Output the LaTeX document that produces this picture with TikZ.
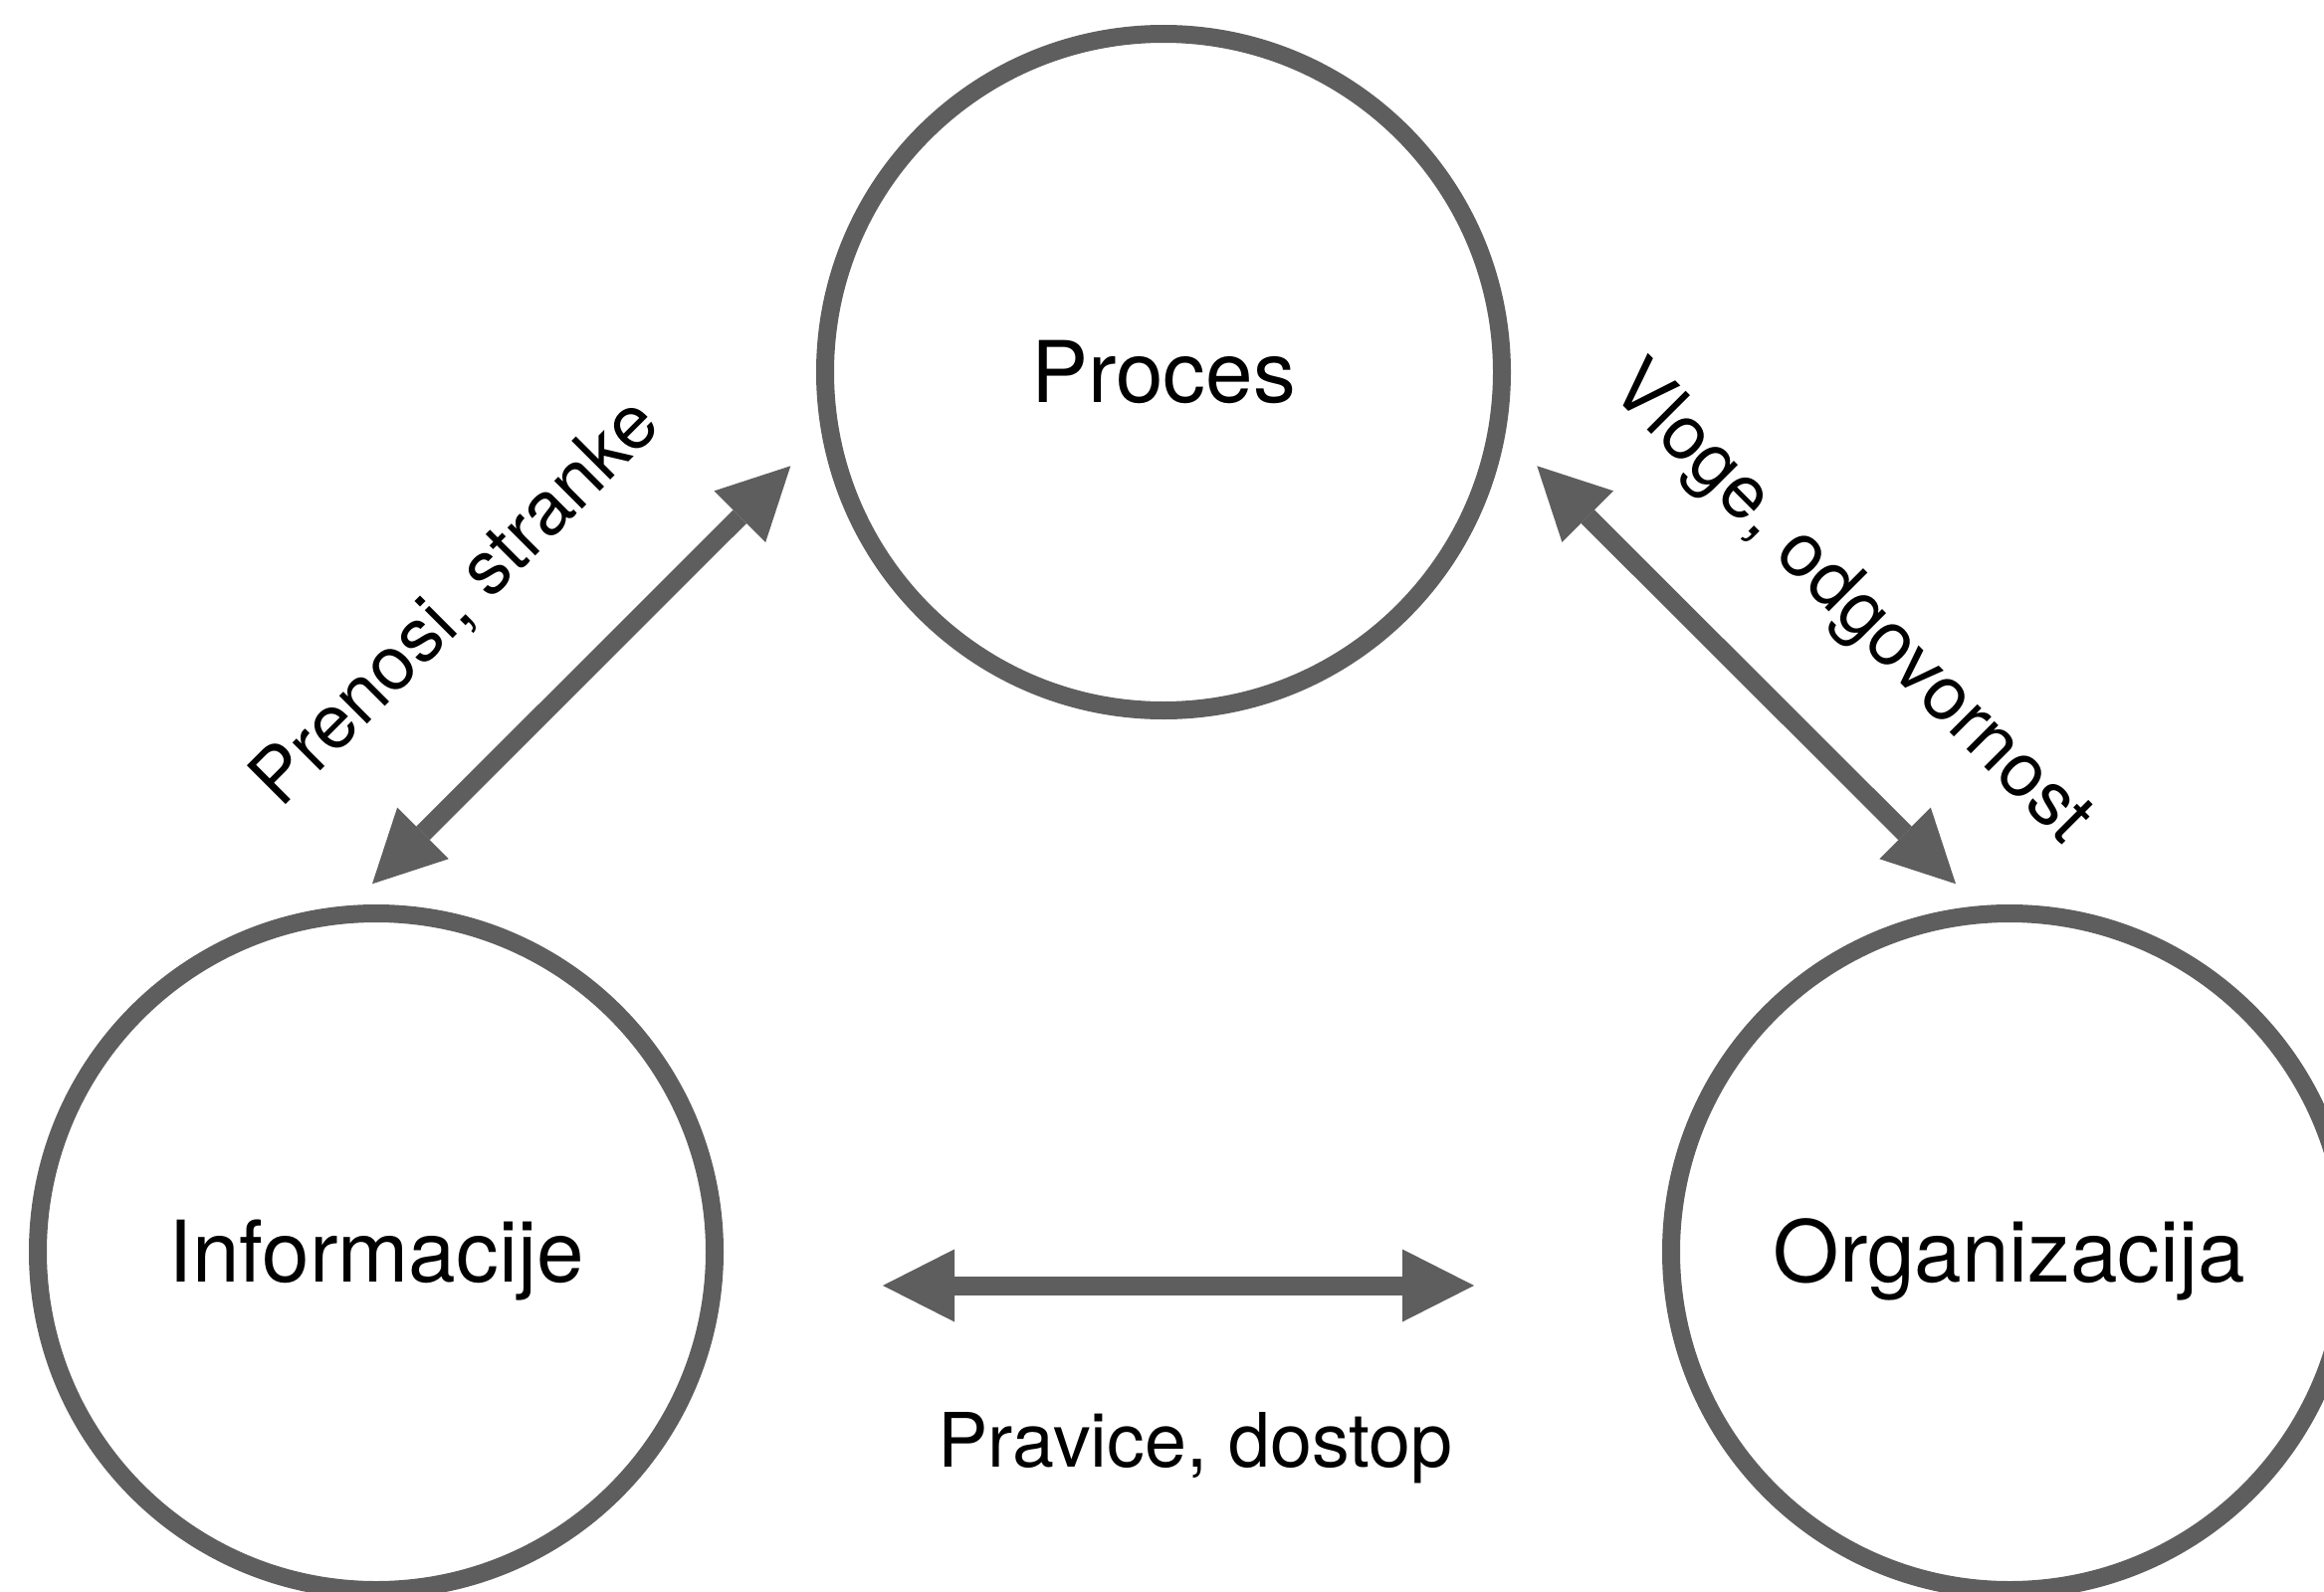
\documentclass[tikz,border=0pt]{standalone}
\usepackage{fontspec}
\setmainfont{TeX Gyre Heros}
\usetikzlibrary{arrows.meta}
\definecolor{ringgray}{HTML}{5E5E5E}
\tikzset{
  ring/.style={circle, draw=ringgray, line width=18pt, minimum size=680pt,
    inner sep=0pt, text height=61.4pt, text depth=0pt,
    font=\fontsize{85.5}{102}\selectfont},
  edgelabel/.style={inner sep=0pt, anchor=base, font=\fontsize{75.5}{90}\selectfont},
  relarrow/.style={draw=ringgray, line width=19pt,
    {Triangle[length=72pt,width=73pt,line width=0pt]}-{Triangle[length=72pt,width=73pt,line width=0pt]}}
}
\begin{document}
\begin{tikzpicture}[x=1pt, y=-1pt]
  \useasboundingbox (0,0) rectangle (2335,1600);

  % the three domains
  \node[ring] (proc) at (1169,374)  {Proces};
  \node[ring] (info) at (378,1258)  {Informacije};
  \node[ring] (org)  at (2019,1258) {Organizacija};

  % arrow end points between the domains
  \coordinate (infoEnd)  at (374,888.3);
  \coordinate (procL)    at (794.3,468.3);
  \coordinate (procR)    at (1544.3,468.3);
  \coordinate (orgEnd)   at (1965,888.3);
  \coordinate (infoSide) at (887,1292);
  \coordinate (orgSide)  at (1481,1292);

  % relations
  \draw[relarrow] (infoEnd) -- (procL);
  \draw[relarrow] (procR) -- (orgEnd);
  \draw[relarrow] (infoSide) -- (orgSide);

  % relation labels
  \node[edgelabel, rotate=45]  (lblA) at (474.5,622)  {Prenosi, stranke};
  \node[edgelabel, rotate=-45] (lblB) at (1844.5,621.5) {Vloge, odgovornost};
  \node[edgelabel]             (lblC) at (1201,1474) {Pravice, dostop};
\end{tikzpicture}
\end{document}
